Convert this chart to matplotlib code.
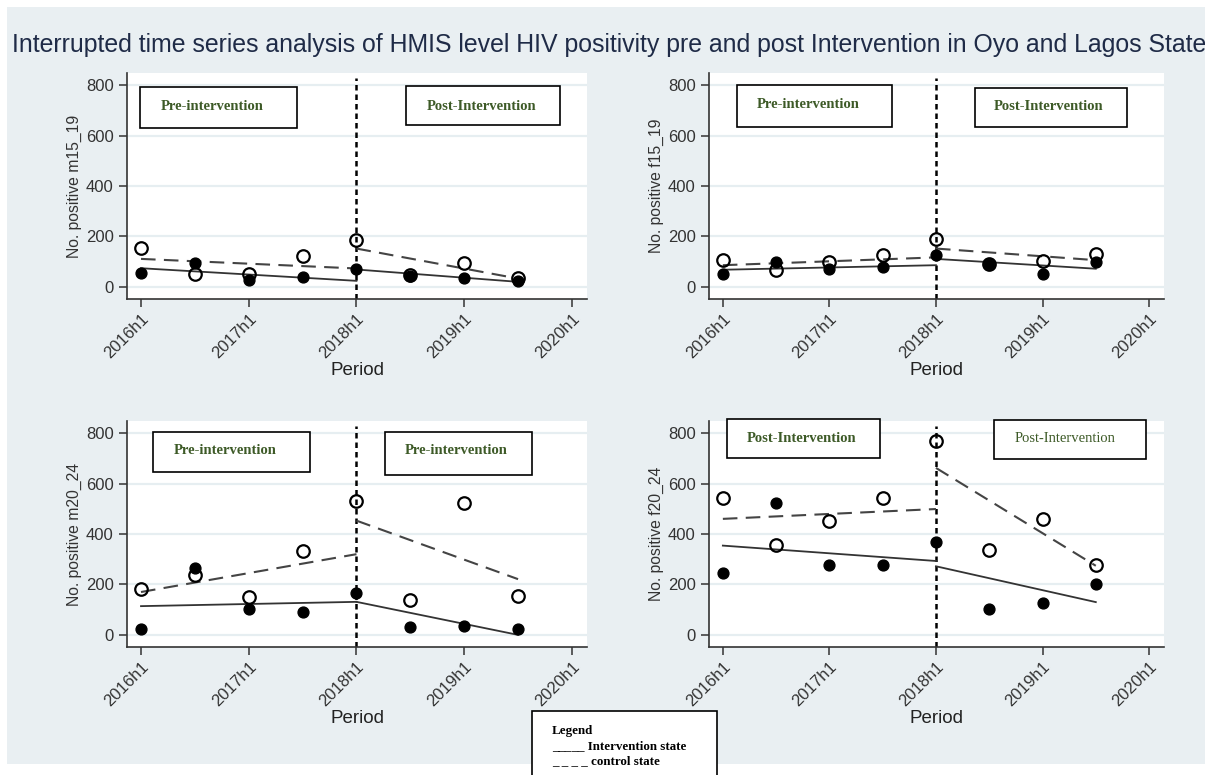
import numpy as np
import matplotlib.pyplot as plt
from matplotlib.patches import Rectangle

plt.rcParams['font.family'] = ['Liberation Sans', 'DejaVu Sans']

W, H = 1205, 775

periods = ['2016h1', '2016h2', '2017h1', '2017h2', '2018h1', '2018h2', '2019h1', '2019h2']
x = np.arange(len(periods))
tick_pos = [0, 2, 4, 6, 8]
tick_lab = ['2016h1', '2017h1', '2018h1', '2019h1', '2020h1']
yticks = [0, 200, 400, 600, 800]

# observed counts: intervention state (filled) / control state (hollow)
m15_int = [56, 94, 26, 38, 72, 45, 34, 23]
m15_ctl = [154, 50, 50, 123, 184, 48, 95, 37]
f15_int = [52, 98, 70, 77, 125, 89, 50, 99]
f15_ctl = [107, 66, 97, 125, 189, 89, 101, 131]
m20_int = [24, 265, 102, 90, 167, 32, 34, 24]
m20_ctl = [180, 238, 151, 332, 532, 139, 522, 154]
f20_int = [245, 523, 277, 277, 368, 102, 126, 203]
f20_ctl = [543, 358, 453, 543, 770, 335, 460, 278]

# fitted ITS segments: [pre start, pre end, post start, post end]
m15_fit_int = [74, 24, 69, 20]
m15_fit_ctl = [111, 73, 152, 33]
f15_fit_int = [68, 86, 111, 72]
f15_fit_ctl = [86, 117, 152, 106]
m20_fit_int = [114, 131, 131, 0]
m20_fit_ctl = [170, 320, 453, 221]
f20_fit_int = [354, 293, 272, 130]
f20_fit_ctl = [460, 499, 662, 274]

pre_x = [0, 4]
post_x = [4, 7]


def px(x0, y0, x1, y1):
    # pixel box (top-left origin) -> figure fraction rect
    return [x0 / W, 1 - y1 / H, (x1 - x0) / W, (y1 - y0) / H]


panels = [
    dict(ylab='No. positive m15_19', yi=m15_int, yc=m15_ctl, fi=m15_fit_int, fc=m15_fit_ctl,
         rect=px(127, 73, 587, 299),
         boxes=[((140, 87, 297, 128), (212, 106), 'Pre-intervention', 'bold'),
                ((406, 86, 560, 125), (482, 106), 'Post-Intervention', 'bold')]),
    dict(ylab='No. positive f15_19', yi=f15_int, yc=f15_ctl, fi=f15_fit_int, fc=f15_fit_ctl,
         rect=px(709, 73, 1164, 299),
         boxes=[((737, 85, 892, 127), (808, 105), 'Pre-intervention', 'bold'),
                ((975, 88, 1127, 127), (1049, 107), 'Post-Intervention', 'bold')]),
    dict(ylab='No. positive m20_24', yi=m20_int, yc=m20_ctl, fi=m20_fit_int, fc=m20_fit_ctl,
         rect=px(127, 421, 587, 647),
         boxes=[((153, 432, 310, 472), (225, 451), 'Pre-intervention', 'bold'),
                ((385, 432, 532, 475), (456, 451), 'Pre-intervention', 'bold')]),
    dict(ylab='No. positive f20_24', yi=f20_int, yc=f20_ctl, fi=f20_fit_int, fc=f20_fit_ctl,
         rect=px(709, 421, 1164, 647),
         boxes=[((727, 419, 880, 458), (802, 439), 'Post-Intervention', 'bold'),
                ((994, 420, 1146, 459), (1065, 439), 'Post-Intervention', 'normal')]),
]

fig = plt.figure(figsize=(W / 100, H / 100), dpi=100, facecolor='white')

# light stata-style background panel
fig.add_artist(Rectangle((7 / W, 1 - 764 / H), 1 - 7 / W, (764 - 7) / H,
                         transform=fig.transFigure, facecolor='#e9eff2', edgecolor='none', zorder=0))

fig.text(12 / W, 1 - 45 / H,
         'Interrupted time series analysis of HMIS level HIV positivity pre and post Intervention in Oyo and Lagos State',
         fontsize=17.9, color='#1f2b47', ha='left', va='center')

for p in panels:
    ax = fig.add_axes(p['rect'])
    ax.set_facecolor('white')
    ax.set_xlim(-0.26, 8.28)
    ax.set_ylim(-48, 848)
    for s in ['top', 'right']:
        ax.spines[s].set_visible(False)
    for s in ['left', 'bottom']:
        ax.spines[s].set_color('#333333')
        ax.spines[s].set_linewidth(1.2)
    ax.set_yticks(yticks)
    ax.set_xticks(tick_pos)
    ax.set_xticklabels(tick_lab, rotation=45, ha='right', rotation_mode='anchor')
    ax.tick_params(axis='both', direction='out', length=6, width=1.1, color='#333333',
                   labelsize=12, labelcolor='#333333')
    ax.tick_params(axis='x', pad=3)
    ax.yaxis.grid(True, color='#e6eef1', lw=1.6)
    ax.set_axisbelow(True)
    ax.set_ylabel(p['ylab'], fontsize=11.3, color='#333333', labelpad=3)
    ax.set_xlabel('Period', fontsize=13.5, color='#222222', labelpad=0)

    ax.axvline(4, ymin=0, ymax=0.98, color='black', lw=1.8, dashes=(2.2, 1.6))

    ax.plot(x, p['yc'], 'o', ms=9, mfc='none', mec='black', mew=1.6, zorder=3)
    ax.plot(x, p['yi'], 'o', ms=7.8, mfc='black', mec='black', zorder=3)

    fi, fc = p['fi'], p['fc']
    ax.plot(pre_x, fi[:2], color='#333333', lw=1.3, zorder=2)
    ax.plot(post_x, fi[2:], color='#333333', lw=1.3, zorder=2)
    ax.plot(pre_x, fc[:2], color='#444444', lw=1.5, dashes=(7, 4), zorder=2)
    ax.plot(post_x, fc[2:], color='#444444', lw=1.5, dashes=(7, 4), zorder=2)

    for (x0, y0, x1, y1), (tx, ty), txt, wt in p['boxes']:
        fig.add_artist(Rectangle((x0 / W, 1 - y1 / H), (x1 - x0) / W, (y1 - y0) / H,
                                 transform=fig.transFigure, facecolor='white',
                                 edgecolor='black', lw=1.2, zorder=5))
        fig.text(tx / W, 1 - ty / H, txt, family='Liberation Serif', fontweight=wt,
                 fontsize=10.5, color='#3d5a27', ha='center', va='center', zorder=6)

# legend box at the bottom
fig.add_artist(Rectangle((532 / W, -0.01), (717 - 532) / W, 0.01 + (775 - 711) / H,
                         transform=fig.transFigure, facecolor='white', edgecolor='black',
                         lw=1.2, zorder=5))
for ty, txt in [(731, 'Legend'), (746, '_____ Intervention state'), (761, '_ _ _ _ control state')]:
    fig.text(552 / W, 1 - ty / H, txt, family='Liberation Serif', fontweight='bold',
             fontsize=9.4, color='black', ha='left', va='center', zorder=6)

fig.savefig('out.png', dpi=100)
